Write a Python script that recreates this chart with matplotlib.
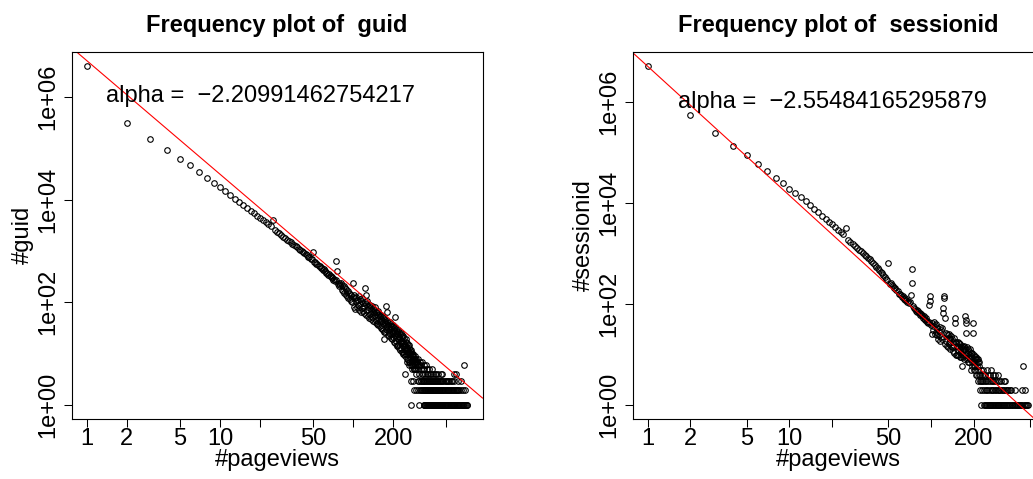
import numpy as np
import matplotlib
matplotlib.use("Agg")
import matplotlib.pyplot as plt
from matplotlib.ticker import NullLocator

plt.rcParams['font.family'] = ['Liberation Sans', 'DejaVu Sans']

# ---- guid: number of guids per pageview count ----
# counts for pageviews 1..300
guid_counts = [
    4050000, 307000, 153000, 93500, 62500, 46400, 34400, 26700, 21400, 17600,
    14500, 12200, 10400, 8970, 7810, 6870, 6090, 5430, 4870, 4390,
    3990, 3630, 3320, 3050, 4000, 2540, 2350, 2190, 2040, 1900,
    1780, 1670, 1570, 1470, 1390, 1310, 1240, 1170, 1110, 1060,
    1010, 958, 912, 871, 832, 780, 760, 700, 690, 935,
    610, 600, 560, 550, 515, 505, 470, 470, 430, 440,
    400, 405, 370, 375, 340, 350, 320, 330, 295, 305,
    275, 290, 255, 270, 630, 405, 230, 240, 210, 222,
    240, 175, 215, 165, 205, 150, 190, 140, 180, 132,
    170, 122, 155, 115, 148, 108, 140, 100, 128, 240,
    140, 82, 120, 75, 105, 128, 80, 112, 90, 135,
    70, 115, 92, 65, 104, 78, 120, 68, 96, 84,
    62, 100, 190, 58, 92, 140, 70, 104, 55, 82,
    88, 50, 76, 60, 90, 48, 70, 84, 52, 66,
    78, 44, 62, 72, 42, 58, 80, 46, 66, 40,
    64, 38, 56, 68, 36, 50, 60, 34, 54, 44,
    58, 32, 48, 54, 30, 44, 52, 29, 40, 19,
    50, 27, 42, 46, 26, 38, 30, 85, 66, 34,
    44, 23, 36, 40, 22, 33, 27, 42, 24, 30,
    38, 20, 31, 35, 19, 28, 24, 37, 21, 26,
    34, 17, 28, 31, 16, 52, 22, 33, 18, 25,
    30, 15, 24, 27, 14, 22, 19, 29, 15, 21,
    26, 13, 21, 24, 12, 19, 16, 25, 13, 18,
    23, 11, 18, 21, 10, 16, 14, 22, 11, 15,
    20, 10, 16, 4, 9, 14, 12, 19, 10, 13,
    17, 8, 13, 16, 7, 12, 10, 15, 8, 11,
    15, 7, 11, 13, 6, 10, 9, 12, 7, 1,
    12, 6, 3, 11, 5, 9, 7, 10, 6, 8,
    3, 10, 6, 9, 5, 8, 7, 5, 2, 7,
    9, 5, 8, 6, 4, 7, 2, 8, 5, 6,
]
guid_once = [311, 338, 342, 345, 349, 352, 356, 359, 363, 367, 370, 374, 378,
             382, 386, 390, 394, 398, 403, 407, 412, 416, 421, 426, 431, 436,
             441, 446, 452, 457, 463, 468, 474, 480, 486, 492, 498, 505, 511,
             518, 525, 532, 539, 546, 553, 561, 568, 576, 584, 592, 600, 609,
             617, 626, 635, 644, 653, 663, 672, 682, 692, 702, 712, 720]
guid_twice = [309, 318, 326, 331, 335, 340, 344, 348, 353, 357, 362, 366, 371,
              375, 380, 385, 389, 394, 400, 405, 410, 415, 420, 426, 432, 438,
              444, 450, 456, 462, 469, 476, 483, 490, 497, 504, 512, 520, 528,
              536, 544, 552, 561, 570, 579, 589, 598, 608, 618, 629, 641, 664, 687]
guid_thrice = [307, 314, 321, 326, 332, 337, 343, 348, 354, 359, 365, 371, 377,
               383, 390, 397, 404, 411, 418, 426, 434, 442, 450, 459, 468, 477,
               487, 497, 507, 518, 529, 540, 552, 575, 612, 641]
guid_more_pv = [303, 306, 309, 312, 315, 318, 321, 324, 327, 330, 333, 336, 339,
                343, 347, 351, 356, 361, 366, 372, 378, 385, 392, 400, 410, 421,
                437, 455, 467, 570, 590, 679]
guid_more_n = [7, 5, 8, 6, 4, 7, 5, 6, 4, 7, 5, 4, 6,
               5, 4, 6, 4, 5, 4, 5, 4, 4, 5, 4, 4, 4,
               4, 4, 4, 4, 4, 6]
guid_alpha = -2.20991462754217
guid_log_intercept = 6.705

# ---- sessionid ----
# counts for pageviews 1..220
sess_counts = [
    5250000, 545000, 248000, 137000, 87300, 59100, 42400, 31800, 24500, 19100,
    15600, 13000, 10800, 9050, 7690, 6560, 5640, 4890, 4280, 3770,
    3340, 2980, 2670, 2400, 3240, 1860, 1690, 1550, 1420, 1300,
    1180, 1100, 1020, 950, 885, 826, 775, 720, 660, 600,
    550, 510, 470, 435, 405, 375, 345, 320, 295, 650,
    255, 262, 236, 228, 212, 205, 188, 182, 160, 158,
    150, 138, 142, 126, 131, 118, 122, 110, 114, 104,
    108, 150, 257, 484, 90, 84, 80, 74, 77, 70,
    72, 66, 68, 61, 64, 58, 60, 54, 57, 51,
    49, 52, 45, 47, 42, 96, 44, 117, 144, 38,
    42, 26, 36, 30, 44, 25, 38, 28, 40, 24,
    34, 20, 29, 24, 35, 19, 30, 22, 33, 20,
    83, 66, 144, 130, 53, 16, 27, 19, 25, 15,
    24, 14, 21, 17, 25, 13, 20, 15, 23, 14,
    20, 12, 18, 14, 21, 11, 53, 42, 10, 17,
    18, 10, 15, 12, 18, 10, 14, 17, 9, 13,
    16, 9, 14, 11, 6, 15, 9, 13, 10, 15,
    14, 8, 13, 10, 58, 49, 42, 27, 8, 14,
    13, 7, 11, 9, 12, 7, 10, 13, 8, 11,
    11, 5, 9, 7, 11, 6, 43, 8, 27, 6,
    10, 5, 8, 6, 9, 5, 8, 4, 9, 6,
    8, 4, 7, 5, 8, 3, 6, 4, 7, 3,
]
sess_once = [226, 238, 241, 245, 248, 252, 255, 259, 262, 266, 270, 274, 278,
             282, 286, 290, 295, 299, 304, 309, 314, 319, 324, 329, 335, 340,
             346, 352, 358, 364, 370, 376, 383, 390, 397, 404, 411, 418, 426,
             434, 442, 450, 458, 466, 475, 486]
sess_twice = [222, 230, 236, 243, 250, 257, 263, 269, 276, 283, 289, 296, 302,
              309, 316, 323, 330, 337, 344, 352, 360, 369, 392, 436, 460]
sess_thrice = [224, 229, 234, 240, 246, 253, 260, 268, 276, 285, 294, 303, 313,
               326, 333]
sess_more_pv = [223, 227, 228, 232, 235, 242, 247, 251, 261, 265, 272, 285, 299, 448]
sess_more_n = [4, 5, 4, 5, 4, 4, 5, 4, 4, 5, 4, 4, 4, 6]
sess_alpha = -2.55484165295879
sess_log_intercept = 6.705

x_ticks = [1, 2, 5, 10, 20, 50, 100, 200, 500]
x_labels = ['1', '2', '5', '10', '', '50', '', '200', '']
y_ticks = [1, 1e2, 1e4, 1e6]
y_labels = ['1e+00', '1e+02', '1e+04', '1e+06']

W, H = 1033, 479
fig = plt.figure(figsize=(W / 100, H / 100), dpi=100)
FS = 17
AX_TOP, AX_BOT, AX_W = 52.0, 418.7, 411.0


def assemble(counts, once, twice, thrice, more_pv, more_n):
    pv = list(range(1, len(counts) + 1)) + once + twice + thrice + more_pv
    n = (list(counts) + [1] * len(once) + [2] * len(twice)
         + [3] * len(thrice) + more_n)
    return np.array(pv, float), np.array(n, float)


def panel(left, pv, n, alpha, logc, title, ylab):
    ax = fig.add_axes([left / W, 1 - AX_BOT / H, AX_W / W, (AX_BOT - AX_TOP) / H])
    ax.set_xscale('log')
    ax.set_yscale('log')
    ax.plot(pv, n, 'o', mfc='none', mec='black', ms=4.0, mew=0.8, ls='none')
    lx, ly = np.log10(pv.max()), np.log10(n.max())
    ax.set_xlim(10 ** (-0.04 * lx), 10 ** (1.04 * lx))
    ax.set_ylim(10 ** (-0.04 * ly), 10 ** (1.04 * ly))
    xs = np.array(ax.get_xlim())
    ax.plot(xs, 10 ** logc * xs ** alpha, color='red', lw=0.8)

    ax.set_xticks(x_ticks, x_labels, fontsize=FS, va='baseline')
    ax.set_yticks(y_ticks, y_labels, fontsize=FS, rotation=90,
                  rotation_mode='anchor', ha='center', va='baseline')
    ax.xaxis.set_minor_locator(NullLocator())
    ax.yaxis.set_minor_locator(NullLocator())
    ax.tick_params(axis='x', direction='out', length=5.8, width=0.75, pad=13.0)
    ax.tick_params(axis='y', direction='out', length=5.8, width=0.75, pad=6.8)
    for s in ax.spines.values():
        s.set_linewidth(0.8)

    ax.annotate('alpha =  \u2212' + repr(abs(alpha)), xy=(20, 1e6),
                xytext=(0, -4), textcoords='offset points',
                ha='center', va='baseline', fontsize=FS)

    cx = (left + AX_W / 2) / W
    fig.text(cx, 1 - 31.7 / H, title, ha='center', va='baseline',
             fontsize=FS, fontweight='bold')
    fig.text(cx, 1 - 466 / H, '#pageviews', ha='center', va='baseline', fontsize=FS)
    fig.text((left - 42.5) / W, 1 - (AX_TOP + AX_BOT) / 2 / H, ylab,
             rotation=90, rotation_mode='anchor', ha='center', va='baseline',
             fontsize=FS)
    return ax


gpv, gn = assemble(guid_counts, guid_once, guid_twice, guid_thrice,
                   guid_more_pv, guid_more_n)
spv, sn = assemble(sess_counts, sess_once, sess_twice, sess_thrice,
                   sess_more_pv, sess_more_n)

panel(71.5, gpv, gn, guid_alpha, guid_log_intercept,
      'Frequency plot of  guid', '#guid')
panel(632.5, spv, sn, sess_alpha, sess_log_intercept,
      'Frequency plot of  sessionid', '#sessionid')

fig.savefig('out.png', dpi=100)
